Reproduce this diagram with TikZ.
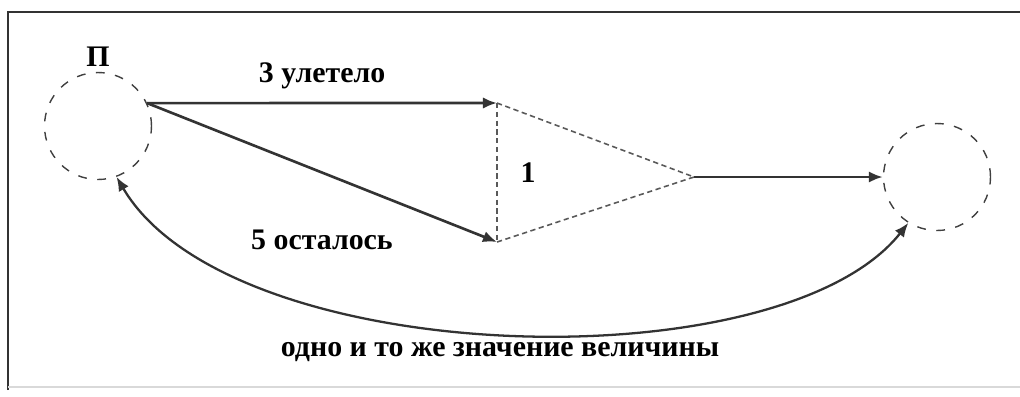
\documentclass[tikz,border=0pt]{standalone}
\usepackage{fontspec}
\setmainfont{Liberation Serif}
\usetikzlibrary{arrows.meta,positioning}
\tikzstyle{state}=[circle,draw=black!75,dash pattern=on 5pt off 6pt,thick,
                minimum size=2.14cm,inner sep=0]
\tikzstyle{flow}=[->,>={Latex[length=8pt,width=6.5pt]},line width=1.5pt,draw=black!80]
\tikzstyle{link}=[dash pattern=on 3pt off 2pt,draw=black!65,line width=0.9pt]
\tikzstyle{lbl}=[font=\fontsize{17}{19}\selectfont\bfseries,inner sep=1pt]

\begin{document}
\begin{tikzpicture}[x=0.02cm,y=-0.02cm]
\useasboundingbox (0,0) rectangle (1020,396);
% frame
\draw[line width=1.6pt,black!80] (8,390) -- (8,12) -- (1020,12);
\draw[line width=1pt,black!15] (8,387) -- (1020,387);

% states
\node[state] (start) at (98,126) {};
\node[state] (end) at (937,177) {};
\node[lbl, above = 2pt of start] {П};

% split point
\coordinate (up) at (497,103);
\coordinate (down) at (497,242);
\coordinate (tip) at (694,177);

\draw[flow] (start.25) -- node[lbl, above = 6pt] {3 улетело} (up);
\draw[flow] (start.25) -- (down);
\draw[link] (up) -- node[lbl, right = 12pt] {1} (down);
\draw[link] (up) -- (tip);
\draw[link] (down) -- (tip);
\draw[flow] (tip) -- (end.180);
\node[lbl] at (322,240) {5 осталось};

% same value
\draw[flow,<->,line width=1.3pt] (start.-70) .. controls (230,370) and (780,385) .. (end.-122);
\node[lbl] at (500,352) {одно и то же значение величины};
\end{tikzpicture}
\end{document}
